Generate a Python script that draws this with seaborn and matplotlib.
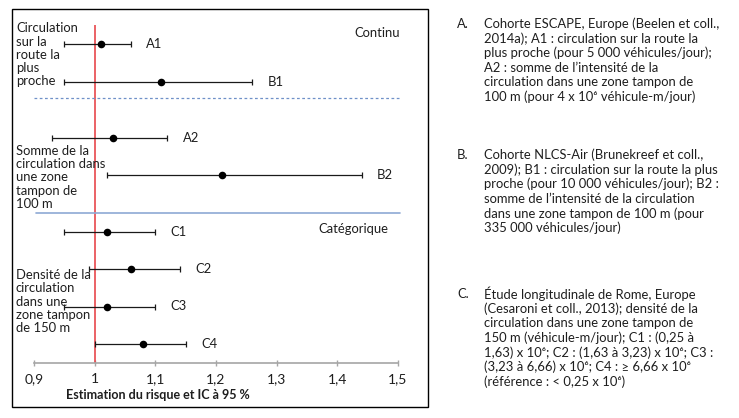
import numpy as np
import pandas as pd
import matplotlib
matplotlib.use('Agg')
import matplotlib.pyplot as plt
import matplotlib.transforms as mtransforms
from matplotlib.patches import Rectangle
import seaborn as sns

# ---------------------------------------------------------------------------
# Data
# ---------------------------------------------------------------------------
labels = ['A1', 'B1', 'A2', 'B2', 'C1', 'C2', 'C3', 'C4']
estimate = [1.01, 1.11, 1.03, 1.21, 1.02, 1.06, 1.02, 1.08]
ci_low = [0.95, 0.95, 0.93, 1.02, 0.95, 0.99, 0.95, 1.00]
ci_high = [1.06, 1.26, 1.12, 1.44, 1.10, 1.14, 1.10, 1.15]

tick_values = [0.9, 1.0, 1.1, 1.2, 1.3, 1.4, 1.5]
tick_labels = ['0,9', '1', '1,1', '1,2', '1,3', '1,4', '1,5']

group_labels = [
    'Circulation\nsur la\nroute la\nplus\nproche',
    'Somme de la\ncirculation dans\nune zone\ntampon de\n100 m',
    'Densité de la\ncirculation\ndans une\nzone tampon\nde 150 m',
]

notes_letters = ['A.', 'B.', 'C.']
notes_A = [
    'Cohorte ESCAPE, Europe (Beelen et coll.,',
    '2014a); A1 : circulation sur la route la',
    'plus proche (pour 5 000 véhicules/jour);',
    'A2 : somme de l’intensité de la',
    'circulation dans une zone tampon de',
    '100 m (pour 4 x 10⁶ véhicule-m/jour)',
]
notes_B = [
    'Cohorte NLCS-Air (Brunekreef et coll.,',
    '2009); B1 : circulation sur la route la plus',
    'proche (pour 10 000 véhicules/jour); B2 :',
    'somme de l’intensité de la circulation',
    'dans une zone tampon de 100 m (pour',
    '335 000 véhicules/jour)',
]
notes_C = [
    'Étude longitudinale de Rome, Europe',
    '(Cesaroni et coll., 2013); densité de la',
    'circulation dans une zone tampon de',
    '150 m (véhicule-m/jour); C1 : (0,25 à',
    '1,63) x 10⁶; C2 : (1,63 à 3,23) x 10⁶; C3 :',
    '(3,23 à 6,66) x 10⁶; C4 : ≥ 6,66 x 10⁶',
    '(référence : < 0,25 x 10⁶)',
]

# layout: vertical slot of each row (top to bottom)
row_pos = [1, 2, 3.5, 4.5, 6, 7, 8, 9]
group_centres = [1.29, 4.56, 7.87]

df = pd.DataFrame({'label': labels, 'est': estimate, 'lo': ci_low,
                   'hi': ci_high, 'row': row_pos})

# ---------------------------------------------------------------------------
# Figure
# ---------------------------------------------------------------------------
sns.set_theme(style='white')
plt.rcParams['font.family'] = ['Lato', 'DejaVu Sans']
FS = 9.4
TXT = '#1e1e1e'

W, H = 739, 418
fig = plt.figure(figsize=(W / 100, H / 100), dpi=100)
ax = fig.add_axes([34 / W, 1 - 362.75 / H, 364 / W, (362.75 - 25.25) / H])

# chart frame
fig.patches.append(Rectangle((12 / W, 1 - 407 / H), 416 / W, 398 / H,
                             transform=fig.transFigure, fill=False,
                             edgecolor='black', linewidth=1.0))

# reference line at 1
ax.axvline(1.0, color='#e8474c', linewidth=1.2, zorder=1)

# confidence intervals
ax.errorbar(df['est'], df['row'],
            xerr=[df['est'] - df['lo'], df['hi'] - df['est']],
            fmt='none', ecolor='#1a1a1a', elinewidth=0.9,
            capsize=2.3, capthick=0.9, zorder=2)
sns.scatterplot(data=df, x='est', y='row', color='black', s=30,
                edgecolor='black', linewidth=0, zorder=3, ax=ax, legend=False)

for _, r in df.iterrows():
    ax.annotate(r['label'], (r['hi'], r['row']), xytext=(11, 0),
                textcoords='offset points', va='center', ha='left',
                fontsize=FS, color=TXT)

# separators
ax.axhline(2.45, color='#6f90c8', linewidth=0.9, linestyle=(0, (2.2, 2.0)),
           xmin=0, xmax=1.005, clip_on=False, zorder=1)
ax.axhline(5.5, color='#8ea9d4', linewidth=1.2, xmin=0.005, xmax=1.005,
           clip_on=False, zorder=1)

ax.text(1.465, 0.71, 'Continu', ha='center', va='center', fontsize=FS,
        color=TXT)
ax.text(1.426, 5.93, 'Catégorique', ha='center', va='center', fontsize=FS,
        color=TXT)

# group labels at left of the axes
trans = mtransforms.blended_transform_factory(fig.transFigure, ax.transData)
for txt, yc in zip(group_labels, group_centres):
    ax.text(16 / W, yc, txt, transform=trans, ha='left', va='center',
            fontsize=FS, linespacing=1.13, color=TXT)

# axes styling
ax.set_xlim(0.9, 1.5)
ax.set_ylim(9.5, 0.5)
ax.set_yticks([])
ax.set_xticks(tick_values)
ax.set_xticklabels(tick_labels, fontsize=FS + 0.6, color=TXT)
ax.tick_params(axis='x', direction='inout', length=5, width=1,
               color='#a6a6a6', pad=5, bottom=True)
for side in ['top', 'right', 'left']:
    ax.spines[side].set_visible(False)
ax.spines['bottom'].set_color('#a6a6a6')
ax.spines['bottom'].set_linewidth(1.2)
ax.set_xlabel('Estimation du risque et IC à 95 %', fontsize=FS - 0.4,
              fontweight='bold', color=TXT)
ax.xaxis.set_label_coords((158 - 34) / 364, -(395 - 362.75) / 337.5)
ax.xaxis.label.set_va('center')
ax.set_ylabel('')
ax.patch.set_alpha(0)

# notes on the right
line_h = 14.6
starts = [24, 155, 294]
for letter, lines, y0 in zip(notes_letters, [notes_A, notes_B, notes_C], starts):
    fig.text(457 / W, 1 - y0 / H, letter, ha='left', va='center',
             fontsize=FS, color=TXT)
    for i, line in enumerate(lines):
        fig.text(484 / W, 1 - (y0 + i * line_h) / H, line, ha='left',
                 va='center', fontsize=FS, color=TXT)

fig.savefig('out.png', dpi=100)
